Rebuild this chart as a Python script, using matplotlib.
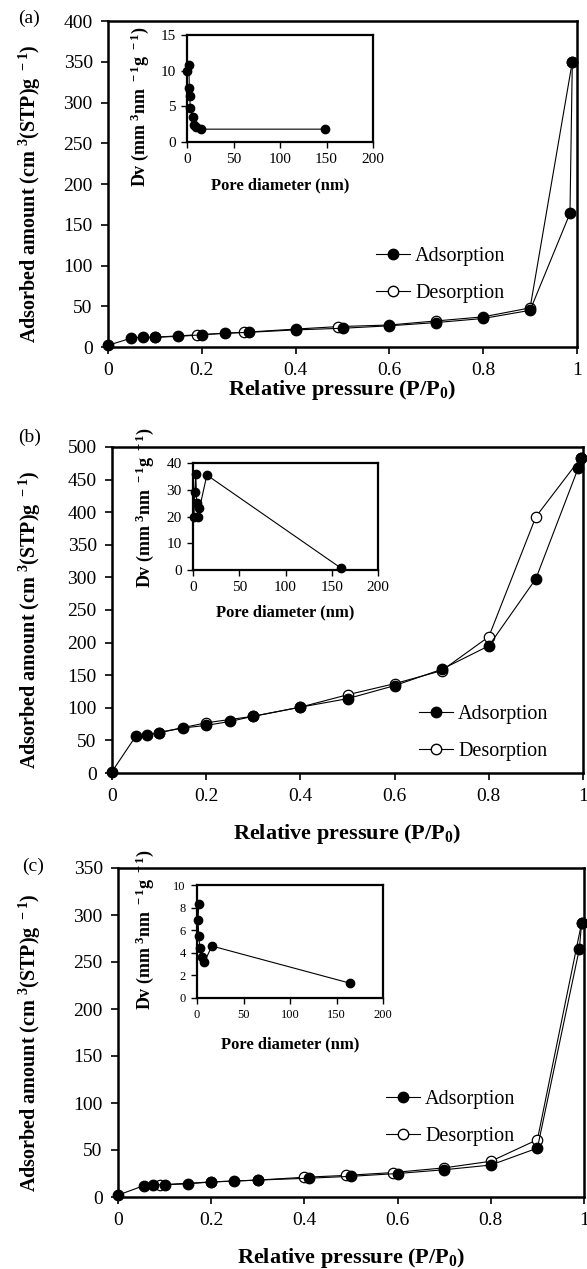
import numpy as np
import matplotlib
matplotlib.use('Agg')
import matplotlib.pyplot as plt
from matplotlib.lines import Line2D

plt.rcParams['font.family'] = 'Liberation Serif'
plt.rcParams['mathtext.fontset'] = 'custom'
plt.rcParams['mathtext.rm'] = 'Liberation Serif'
plt.rcParams['mathtext.bf'] = 'Liberation Serif:bold'
plt.rcParams['mathtext.default'] = 'bf'

# ---- sample (a) ----
a_ads_p = [0, 0.05, 0.075, 0.1, 0.15, 0.2, 0.25, 0.3, 0.4, 0.5, 0.6, 0.7, 0.8, 0.9, 0.985, 0.99]
a_ads_v = [2, 11, 12, 12, 13, 15, 17, 18, 21, 23, 26, 30, 35, 45, 164, 350]
a_des_p = [0.99, 0.9, 0.8, 0.7, 0.6, 0.49, 0.4, 0.29, 0.19, 0.1]
a_des_v = [350, 48, 37, 32, 27, 25, 22, 18, 15, 12]
a_psd_d = [0.5, 2, 2.5, 3, 3.5, 6, 8, 10, 15, 148]
a_psd_dv = [10, 10.8, 7.6, 6.4, 4.8, 3.5, 2.4, 2.1, 1.8, 1.8]

# ---- sample (b) ----
b_ads_p = [0, 0.05, 0.075, 0.1, 0.15, 0.2, 0.25, 0.3, 0.4, 0.5, 0.6, 0.7, 0.8, 0.9, 0.99, 0.995]
b_ads_v = [2, 56, 58, 62, 69, 73, 79, 87, 101, 114, 134, 159, 195, 298, 468, 483]
b_des_p = [0.995, 0.9, 0.8, 0.7, 0.6, 0.5, 0.4, 0.3, 0.2, 0.1]
b_des_v = [483, 393, 209, 157, 137, 120, 101, 87, 77, 62]
b_psd_d = [1, 2, 3, 4, 5, 7, 15, 160]
b_psd_dv = [20, 29, 36, 25, 20, 23, 35.5, 0.7]

# ---- sample (c) ----
c_ads_p = [0, 0.055, 0.075, 0.1, 0.15, 0.2, 0.25, 0.3, 0.41, 0.5, 0.6, 0.7, 0.8, 0.9, 0.99, 0.995]
c_ads_v = [2, 12, 13, 13, 14, 16, 17, 18, 20, 22, 25, 29, 34, 52, 264, 292]
c_des_p = [0.995, 0.9, 0.8, 0.7, 0.59, 0.49, 0.4, 0.3, 0.2, 0.09]
c_des_v = [292, 61, 38, 31, 26, 23, 21, 18, 16, 13]
c_psd_d = [2, 1, 2, 3, 5, 8, 16, 165]
c_psd_dv = [8.3, 6.9, 5.5, 4.4, 3.6, 3.2, 4.6, 1.3]

W, H = 587, 1269
fig = plt.figure(figsize=(W / 100, H / 100), dpi=100)


def px_axes(left, right, top, bottom):
    return fig.add_axes([left / W, 1 - bottom / H, (right - left) / W, (bottom - top) / H])


panels = [
    dict(tag='(a)', tag_xy=(18, 18), main=(108, 577, 21, 347), ymax=400, ylab_y=0.47,
         ads=(a_ads_p, a_ads_v), des=(a_des_p, a_des_v),
         leg=(0.55, 0.221), xlab_y=390,
         inset=(187, 373, 35, 142), iy=(15, 5), psd=(a_psd_d, a_psd_dv),
         iylab=(140, 107), ixlab_y=185, ifs=11),
    dict(tag='(b)', tag_xy=(18, 437), main=(112, 583, 447, 773), ymax=500, ylab_y=0.47,
         ads=(b_ads_p, b_ads_v), des=(b_des_p, b_des_v),
         leg=(0.63, 0.123), xlab_y=834,
         inset=(193, 378, 463, 570), iy=(40, 10), psd=(b_psd_d, b_psd_dv),
         iylab=(145, 508), ixlab_y=612, ifs=11),
    dict(tag='(c)', tag_xy=(22, 866), main=(118, 584, 868, 1197), ymax=350, ylab_y=0.47,
         ads=(c_ads_p, c_ads_v), des=(c_des_p, c_des_v),
         leg=(0.553, 0.24), xlab_y=1258,
         inset=(197, 383, 885, 998), iy=(10, 2), psd=(c_psd_d, c_psd_dv),
         iylab=(145, 930), ixlab_y=1044, ifs=9),
]

for p in panels:
    l, r, t, b = p['main']
    ax = px_axes(l, r, t, b)
    ax.plot(*p['des'], color='black', lw=0.8, marker='o', ms=7.5,
            mfc='white', mec='black', mew=0.9, zorder=3, clip_on=False)
    ax.plot(*p['ads'], color='black', lw=0.8, marker='o', ms=7.5,
            mfc='black', mec='black', zorder=4, clip_on=False)
    ax.set_xlim(0, 1)
    ax.set_ylim(0, p['ymax'])
    ax.set_xticks([0, 0.2, 0.4, 0.6, 0.8, 1.0])
    ax.set_xticklabels(['0', '0.2', '0.4', '0.6', '0.8', '1'])
    ax.set_yticks(np.arange(0, p['ymax'] + 1, 50))
    ax.tick_params(direction='out', length=5, width=1.2, labelsize=14, pad=6)
    for s in ax.spines.values():
        s.set_linewidth(1.8)

    ax.set_xlabel('Relative pressure (P/P$_0$)', fontsize=16, fontweight='bold')
    ax.xaxis.set_label_coords(0.5, -(p['xlab_y'] - b) / (b - t))
    ax.xaxis.label.set_va('center')
    ax.set_ylabel('Adsorbed amount (cm$^{\\ 3}$(STP)g$^{\\ -1}$)', fontsize=14.5,
                  fontweight='bold')
    ax.yaxis.set_label_coords((30 - l) / (r - l), p['ylab_y'])
    ax.yaxis.label.set_va('center')

    h_ads = Line2D([], [], color='black', lw=0.8, marker='o', ms=7.5, mfc='black', mec='black')
    h_des = Line2D([], [], color='black', lw=0.8, marker='o', ms=7.5, mfc='white', mec='black')
    ax.legend([h_ads, h_des], ['Adsorption', 'Desorption'], loc='center left',
              bbox_to_anchor=p['leg'], frameon=False, fontsize=14.5, handlelength=1.7,
              handletextpad=0.25, labelspacing=0.85, borderpad=0)

    fig.text(p['tag_xy'][0] / W, 1 - p['tag_xy'][1] / H, p['tag'], fontsize=14,
             ha='left', va='center')

    # pore size distribution inset
    il, ir, it, ib = p['inset']
    ix = px_axes(il, ir, it, ib)
    ix.plot(*p['psd'], color='black', lw=0.8, marker='o', ms=6, mfc='black', mec='black',
            clip_on=False, zorder=4)
    ix.set_xlim(0, 200)
    ix.set_ylim(0, p['iy'][0])
    ix.set_xticks([0, 50, 100, 150, 200])
    ix.set_yticks(np.arange(0, p['iy'][0] + 0.1, p['iy'][1]))
    ix.tick_params(direction='out', length=4, width=1.0, labelsize=p['ifs'], pad=4)
    for s in ix.spines.values():
        s.set_linewidth(1.6)
    ix.set_xlabel('Pore diameter (nm)', fontsize=12, fontweight='bold')
    ix.xaxis.set_label_coords(0.5, -(p['ixlab_y'] - ib) / (ib - it))
    ix.xaxis.label.set_va('center')
    ix.set_ylabel('Dv (mm$^{\\ 3}$nm$^{\\ -1}$g$^{\\ -1}$)', fontsize=13, fontweight='bold')
    ix.yaxis.set_label_coords((p['iylab'][0] - il) / (ir - il), (ib - p['iylab'][1]) / (ib - it))
    ix.yaxis.label.set_va('center')

fig.savefig('out.png', dpi=100)
